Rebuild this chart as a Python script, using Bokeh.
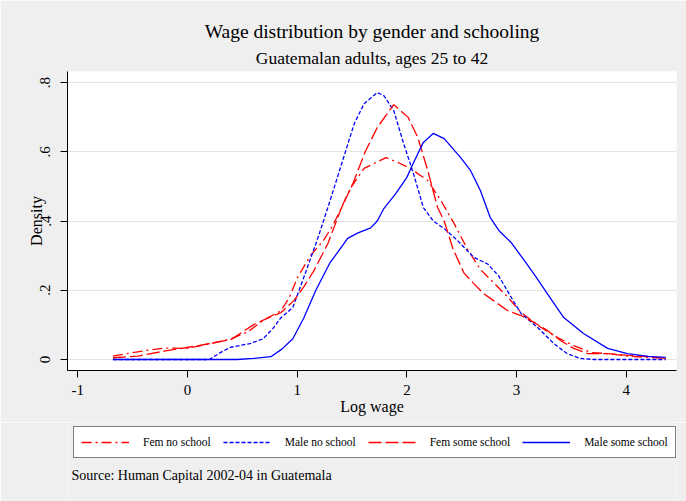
from bokeh.plotting import figure
from bokeh.layouts import column
from bokeh.models import (FixedTicker, CustomJSTickFormatter, Legend, LegendItem, Title, Label, Range1d)
from bokeh.embed import file_html
from bokeh.resources import INLINE

# ---- data ----
fem_no_x = [-0.68, -0.4, -0.2, 0.0, 0.2, 0.4, 0.55, 0.7, 0.85, 0.93, 1.0, 1.12, 1.24, 1.33, 1.49, 1.61, 1.7, 1.81, 1.92, 2.03, 2.19, 2.31, 2.43, 2.55, 2.67, 2.79, 2.92, 3.04, 3.22, 3.37, 3.52, 3.68, 3.83, 4.01, 4.2, 4.36]
fem_no_y = [0.010, 0.025, 0.033, 0.032, 0.045, 0.060, 0.080, 0.115, 0.140, 0.180, 0.235, 0.300, 0.344, 0.390, 0.497, 0.552, 0.566, 0.583, 0.569, 0.552, 0.517, 0.459, 0.393, 0.320, 0.260, 0.222, 0.180, 0.136, 0.093, 0.064, 0.040, 0.020, 0.017, 0.010, 0.006, 0.004]

male_no_x = [-0.68, 0.2, 0.3, 0.39, 0.57, 0.69, 0.78, 0.85, 0.96, 1.06, 1.19, 1.30, 1.40, 1.52, 1.61, 1.73, 1.79, 1.88, 1.97, 2.06, 2.15, 2.24, 2.34, 2.46, 2.61, 2.74, 2.84, 2.95, 3.04, 3.19, 3.34, 3.46, 3.58, 3.7, 4.36]
male_no_y = [0.0, 0.0, 0.020, 0.035, 0.046, 0.060, 0.090, 0.120, 0.150, 0.237, 0.352, 0.459, 0.560, 0.681, 0.739, 0.771, 0.762, 0.719, 0.624, 0.537, 0.439, 0.400, 0.378, 0.344, 0.295, 0.275, 0.240, 0.180, 0.133, 0.093, 0.046, 0.017, 0.003, 0.0, 0.0]

fem_some_x = [-0.68, -0.45, -0.2, 0.1, 0.4, 0.6, 0.7, 0.85, 0.97, 1.06, 1.15, 1.28, 1.40, 1.51, 1.62, 1.73, 1.88, 2.01, 2.10, 2.19, 2.28, 2.34, 2.42, 2.52, 2.61, 2.70, 2.79, 2.92, 3.04, 3.16, 3.28, 3.40, 3.52, 3.65, 3.83, 4.01, 4.2, 4.36]
fem_some_y = [0.005, 0.010, 0.025, 0.040, 0.058, 0.100, 0.115, 0.135, 0.170, 0.210, 0.255, 0.335, 0.435, 0.510, 0.600, 0.670, 0.736, 0.700, 0.641, 0.546, 0.439, 0.400, 0.320, 0.250, 0.219, 0.190, 0.170, 0.141, 0.127, 0.107, 0.084, 0.055, 0.032, 0.017, 0.017, 0.012, 0.008, 0.003]

male_some_x = [-0.68, 0.45, 0.6, 0.76, 0.86, 0.96, 1.06, 1.17, 1.30, 1.37, 1.46, 1.55, 1.67, 1.73, 1.79, 1.90, 2.0, 2.06, 2.15, 2.24, 2.34, 2.49, 2.58, 2.67, 2.76, 2.84, 2.95, 3.07, 3.18, 3.28, 3.43, 3.61, 3.83, 4.01, 4.2, 4.36]
male_some_y = [0.0, 0.0, 0.003, 0.008, 0.030, 0.060, 0.120, 0.200, 0.280, 0.310, 0.350, 0.365, 0.380, 0.400, 0.436, 0.480, 0.526, 0.568, 0.627, 0.653, 0.638, 0.583, 0.546, 0.488, 0.410, 0.372, 0.338, 0.286, 0.237, 0.190, 0.121, 0.075, 0.032, 0.017, 0.009, 0.006]

x_ticks = [-1, 0, 1, 2, 3, 4]
y_ticks = [0, 0.2, 0.4, 0.6, 0.8]

series_labels = ["Fem no school", "Male no school", "Fem some school", "Male some school"]
series_colors = ["red", "blue", "red", "blue"]
series_dashes = ["10 4 2 4", "4 2", "13 4", "solid"]
series_x = [fem_no_x, male_no_x, fem_some_x, male_some_x]
series_y = [fem_no_y, male_no_y, fem_some_y, male_some_y]

FONT = "Liberation Serif"
BG = "#efefef"

# ---------------- main chart ----------------
p = figure(width=686, height=422,
           x_range=Range1d(-1.094, 4.458), y_range=Range1d(-0.0318, 0.8318),
           output_backend="svg", toolbar_location=None, title=None,
           background_fill_color="white", border_fill_color=BG,
           min_border_left=67, min_border_right=10, min_border_top=71, min_border_bottom=52)
p.outline_line_color = None

for xs, ys, c, d in zip(series_x, series_y, series_colors, series_dashes):
    p.line(xs, ys, line_color=c, line_width=1.3, line_dash=d)

p.xaxis.ticker = FixedTicker(ticks=x_ticks)
p.xaxis.formatter = CustomJSTickFormatter(code="return String(Math.round(tick));")
p.yaxis.ticker = FixedTicker(ticks=y_ticks)
p.yaxis.formatter = CustomJSTickFormatter(code="""
    if (Math.abs(tick) < 1e-9) return '0';
    return tick.toFixed(1).replace(/^0/, '');
""")
for ax in (p.xaxis[0], p.yaxis[0]):
    ax.axis_line_color = "black"
    ax.axis_line_width = 1
    ax.major_tick_line_color = "black"
    ax.major_tick_out = 7
    ax.major_tick_in = 0
    ax.minor_tick_out = 0
    ax.minor_tick_in = 0
    ax.major_label_text_font = FONT
    ax.major_label_text_font_size = "15px"
    ax.major_label_text_color = "black"
    ax.axis_label_text_font = FONT
    ax.axis_label_text_font_size = "16px"
    ax.axis_label_text_font_style = "normal"
    ax.axis_label_text_color = "black"

p.xaxis.axis_label = "Log wage"
p.xaxis.major_label_standoff = 7
p.xaxis.axis_label_standoff = 0
p.yaxis.axis_label = "Density"
p.yaxis.major_label_orientation = "vertical"
p.yaxis.major_label_standoff = 10
p.yaxis.axis_label_standoff = -7

p.xgrid.grid_line_color = None
p.ygrid.grid_line_color = "#e4e4e4"
p.ygrid.grid_line_width = 1

sub = Title(text="Guatemalan adults, ages 25 to 42", align="center",
            text_font=FONT, text_font_size="17.5px", text_font_style="normal",
            text_color="black", standoff=7)
p.add_layout(sub, "above")
main = Title(text="Wage distribution by gender and schooling", align="center",
             text_font=FONT, text_font_size="19.5px", text_font_style="normal",
             text_color="black", standoff=2)
p.add_layout(main, "above")

# ---------------- legend + note strip ----------------
q = figure(width=686, height=79, x_range=Range1d(100, 101), y_range=Range1d(100, 101),
           output_backend="svg", toolbar_location=None, title=None,
           x_axis_type=None, y_axis_type=None,
           background_fill_color=BG, border_fill_color=BG,
           min_border_left=0, min_border_right=0, min_border_top=0, min_border_bottom=0)
q.outline_line_color = None
q.xgrid.grid_line_color = None
q.ygrid.grid_line_color = None

items = []
for xs, ys, c, d, lab in zip(series_x, series_y, series_colors, series_dashes, series_labels):
    r = q.line(xs, ys, line_color=c, line_width=1.3, line_dash=d)   # off-range: only the legend shows it
    items.append(LegendItem(label=lab, renderers=[r]))

# the strip's frame is aligned with the chart's frame (left edge at 67px)
legend = Legend(items=items, orientation="horizontal", location=(6, 43))
legend.label_text_font = FONT
legend.label_text_font_size = "11.5px"
legend.label_text_color = "black"
legend.glyph_width = 48
legend.glyph_height = 16
legend.label_height = 16
legend.label_standoff = 14
legend.spacing = 12
legend.padding = 7
legend.margin = 0
legend.border_line_color = "black"
legend.border_line_width = 1.2
legend.background_fill_color = "white"
legend.background_fill_alpha = 1
q.add_layout(legend, "center")

note = Label(x=4, y=26, x_units="screen", y_units="screen",
             text="Source: Human Capital 2002-04 in Guatemala",
             text_font=FONT, text_font_size="14px", text_color="black",
             text_baseline="middle", text_align="left")
q.add_layout(note)

layout = column(p, q, spacing=0)
open("out.html", "w").write(file_html(layout, INLINE))
